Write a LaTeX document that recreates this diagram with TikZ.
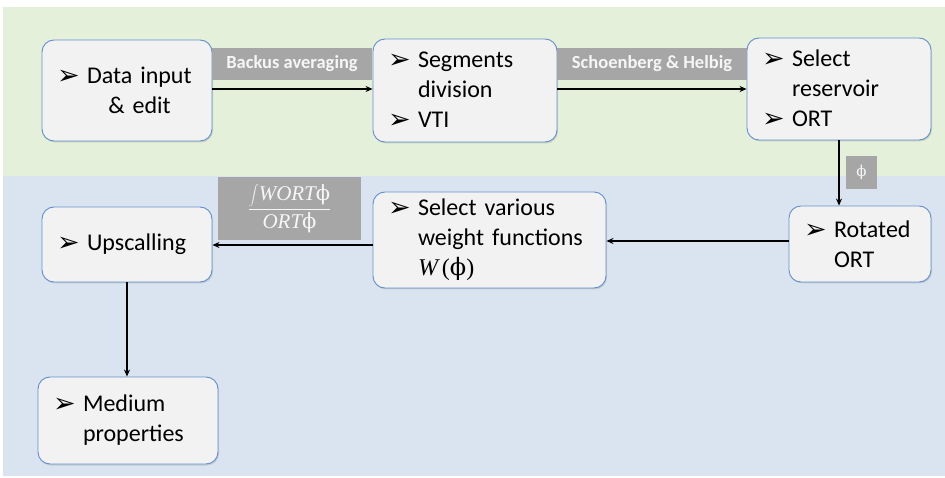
\documentclass[tikz,border=0pt]{standalone}
\usepackage{fontspec}
\setmainfont{Carlito}
\newfontfamily\symf{DejaVu Sans}
\newfontfamily\serf{Liberation Serif}
\newfontfamily\phif{DejaVu Serif}
\usetikzlibrary{arrows.meta,shadows}
\definecolor{bggreen}{RGB}{228,240,218}
\definecolor{bgblue}{RGB}{218,228,240}
\definecolor{boxfill}{RGB}{242,242,242}
\definecolor{boxline}{RGB}{98,143,205}
\definecolor{lblfill}{RGB}{166,166,166}
\definecolor{lbltext}{RGB}{246,246,246}
\newcommand{\bul}{\raisebox{-1pt}{\symf\fontsize{27}{27}\selectfont ➢}}
\newcommand{\bi}{\makebox[30pt][l]{\bul}}
\newcommand{\ind}{\hspace*{30pt}}
\tikzset{
  procbox/.style={draw=boxline, line width=0.9pt, fill=boxfill, rounded corners=12pt,
    inner xsep=15pt, inner ysep=0pt, align=left,
    font=\fontsize{24}{30}\selectfont,
    drop shadow={opacity=0.25, shadow xshift=1pt, shadow yshift=-1.5pt}},
  lbl/.style={fill=lblfill, text=lbltext, inner sep=0pt, minimum height=32pt,
    font=\bfseries\fontsize{18.5}{18.5}\selectfont},
  conn/.style={-{Stealth[length=7pt,width=6pt]}, line width=1.4pt, black}
}
\begin{document}
\begin{tikzpicture}[x=1pt,y=-1pt]
\useasboundingbox (0,0) rectangle (945,478);
\fill[white] (0,0) rectangle (945,478);
\fill[bggreen] (3,7) rectangle (945,176);
\fill[bgblue] (3,176) rectangle (945,476);

\node[procbox, minimum width=170pt, minimum height=101pt, text width=140pt] (data) at (127,90.5)
  {\bi Data input\\ \ind\makebox[105pt][c]{\& edit}};
\node[procbox, minimum width=184pt, minimum height=103pt, text width=154pt] (seg) at (465,90.5)
  {\bi Segments\\ \ind division\\ \bi VTI};
\node[procbox, minimum width=184pt, minimum height=102pt, text width=154pt] (sel) at (839,89)
  {\bi Select\\ \ind reservoir\\ \bi ORT};
\node[procbox, minimum width=142pt, minimum height=76pt, text width=112pt] (rot) at (860,244)
  {\bi Rotated\\ \ind ORT};
\node[procbox, minimum width=233pt, minimum height=96pt, text width=203pt] (var) at (489.5,240)
  {\bi Select various\\ \ind weight functions\\ \ind{\serf\itshape W}\,{\serf(}{\phif ϕ}{\serf)}};
\node[procbox, minimum width=170pt, minimum height=75pt, text width=140pt] (up) at (127,244.5)
  {\bi Upscalling};
\node[procbox, minimum width=180pt, minimum height=87pt, text width=150pt] (med) at (128,420.5)
  {\bi Medium\\ \ind properties};

\node[lbl, minimum width=160pt] (lb1) at (292,64) {Backus averaging};
\node[lbl, minimum width=190pt] (lb2) at (652,64) {Schoenberg \& Helbig};
\node[lbl, minimum width=31pt, minimum height=33pt, font=\fontsize{15}{15}\selectfont] (lb3) at (861.5,172.5) {\phif ϕ};
\node[lbl, minimum width=143pt, minimum height=63pt, font=\fontsize{21}{22}\selectfont] (lb4) at (289.5,208.5)
  {$\displaystyle\frac{\displaystyle\int\! \mbox{\serf\itshape WORT}\mbox{\phif ϕ}}{\mbox{\serf\itshape ORT}\mbox{\phif ϕ}}$};

\draw[conn] (data.east |- 0,89) -- (seg.west |- 0,89);
\draw[conn] (seg.east |- 0,89) -- (sel.west |- 0,89);
\draw[conn] (sel.south -| 839,0) -- (rot.north -| 839,0);
\draw[conn] (rot.west |- 0,241) -- (var.east |- 0,241);
\draw[conn] (var.west |- 0,245) -- (up.east |- 0,245);
\draw[conn] (up.south) -- (up.south |- med.north);
\end{tikzpicture}
\end{document}
